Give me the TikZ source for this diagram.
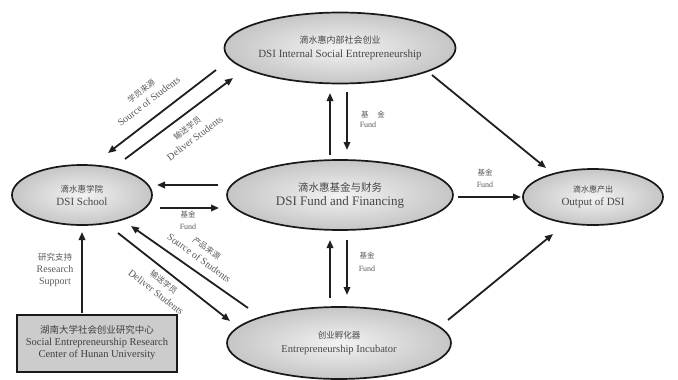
\documentclass[tikz,border=0pt]{standalone}
\usepackage{fontspec}
\setmainfont{Liberation Serif}
\newfontfamily\cjk{Noto Sans CJK SC}
\usetikzlibrary{shapes.geometric,arrows.meta}
\begin{document}
\begin{tikzpicture}[x=1pt,y=-1pt,
  ell/.style={ellipse, draw=black!90, line width=1.7pt, inner sep=0pt,
    shading=radial, inner color=gray!10, outer color=gray!45, align=center, text=black!72},
  arr/.style={-{Triangle[length=8pt,width=6.5pt]}, line width=1.8pt, draw=black!88},
  lbl/.style={align=center, text=black!65, inner sep=0pt},
  fnd/.style={text=black!65, inner sep=0pt, font=\fontsize{8}{9}\selectfont},
]
\useasboundingbox (0,0) rectangle (678,380);

% main nodes
\node[ell, minimum width=222pt, minimum height=71pt] (internal) at (340,48)
  {{\cjk\fontsize{9}{11}\selectfont 滴水惠内部社会创业}\\[2pt]{\fontsize{11}{13}\selectfont DSI Internal Social Entrepreneurship}};
\node[ell, minimum width=226pt, minimum height=70pt] (fund) at (340,195)
  {{\cjk\fontsize{10.5}{12}\selectfont 滴水惠基金与财务}\\[2pt]{\fontsize{13}{15}\selectfont DSI Fund and Financing}};
\node[ell, minimum width=140pt, minimum height=60pt] (school) at (82,195)
  {{\cjk\fontsize{8.5}{10}\selectfont 滴水惠学院}\\[1pt]{\fontsize{11}{13}\selectfont DSI School}};
\node[ell, minimum width=140pt, minimum height=56pt] (output) at (593,197)
  {{\cjk\fontsize{8}{10}\selectfont 滴水惠产出}\\[1pt]{\fontsize{11}{13}\selectfont Output of DSI}};
\node[ell, minimum width=224pt, minimum height=72pt] (incub) at (339,343)
  {{\cjk\fontsize{8.5}{10}\selectfont 创业孵化器}\\[2pt]{\fontsize{10.5}{12}\selectfont Entrepreneurship Incubator}};
\node[draw=black!90, line width=2pt, fill=gray!40, minimum width=160pt, minimum height=57pt,
  align=center, text=black!75, inner sep=0pt] (center) at (97,343)
  {{\cjk\fontsize{9.5}{14}\selectfont 湖南大学社会创业研究中心}\\{\fontsize{10.5}{14}\selectfont Social Entrepreneurship Research}\\{\fontsize{10.5}{14}\selectfont Center of Hunan University}};

% arrow end points
\coordinate (s1a) at (216,70);  \coordinate (s1b) at (108,153);
\coordinate (d1a) at (125,159); \coordinate (d1b) at (233,78);
\coordinate (u1a) at (330,155); \coordinate (u1b) at (330,93);
\coordinate (v1a) at (347,92);  \coordinate (v1b) at (347,150);
\coordinate (h1a) at (218,185); \coordinate (h1b) at (157,185);
\coordinate (h2a) at (160,208); \coordinate (h2b) at (219,208);
\coordinate (o1a) at (458,197); \coordinate (o1b) at (521,197);
\coordinate (o2a) at (432,75);  \coordinate (o2b) at (546,168);
\coordinate (o3a) at (448,320); \coordinate (o3b) at (553,234);
\coordinate (u2a) at (330,298); \coordinate (u2b) at (330,240);
\coordinate (v2a) at (347,240); \coordinate (v2b) at (347,295);
\coordinate (s2a) at (248,308); \coordinate (s2b) at (131,226);
\coordinate (d2a) at (118,233); \coordinate (d2b) at (230,321);
\coordinate (r1a) at (82,313);  \coordinate (r1b) at (82,232);

\draw[arr] (s1a) -- (s1b);
\draw[arr] (d1a) -- (d1b);
\draw[arr] (u1a) -- (u1b);
\draw[arr] (v1a) -- (v1b);
\draw[arr] (h1a) -- (h1b);
\draw[arr] (h2a) -- (h2b);
\draw[arr] (o1a) -- (o1b);
\draw[arr] (o2a) -- (o2b);
\draw[arr] (o3a) -- (o3b);
\draw[arr] (u2a) -- (u2b);
\draw[arr] (v2a) -- (v2b);
\draw[arr] (s2a) -- (s2b);
\draw[arr] (d2a) -- (d2b);
\draw[arr] (r1a) -- (r1b);

% labels
\node[lbl, rotate=37] (l1) at (145,96)
  {{\cjk\fontsize{8}{10}\selectfont 学员来源}\\[1pt]{\fontsize{10}{12}\selectfont Source of Students}};
\node[lbl, rotate=37] (l2) at (191,133)
  {{\cjk\fontsize{8}{10}\selectfont 输送学员}\\[1pt]{\fontsize{10}{12}\selectfont Deliver Students}};
\node[lbl, rotate=-36] (l3) at (203,253)
  {{\cjk\fontsize{8}{10}\selectfont 产品来源}\\[1pt]{\fontsize{10}{12}\selectfont Source of Students}};
\node[lbl, rotate=-38] (l4) at (160,287)
  {{\cjk\fontsize{8}{10}\selectfont 输送学员}\\[1pt]{\fontsize{10}{12}\selectfont Deliver Students}};
\node[lbl] (l5) at (55,270)
  {{\cjk\fontsize{8.5}{13}\selectfont 研究支持}\\{\fontsize{10}{13}\selectfont Research}\\{\fontsize{10}{13}\selectfont Support}};

\node[fnd, font=\cjk\fontsize{7.5}{9}\selectfont] (f1c) at (373,115) {基\hspace{1.2em}金};
\node[fnd] (f1e) at (368,125) {Fund};
\node[fnd, font=\cjk\fontsize{7.5}{9}\selectfont] (f2c) at (188,215) {基金};
\node[fnd] (f2e) at (188,227) {Fund};
\node[fnd, font=\cjk\fontsize{7.5}{9}\selectfont] (f3c) at (485,173) {基金};
\node[fnd] (f3e) at (485,185) {Fund};
\node[fnd, font=\cjk\fontsize{7.5}{9}\selectfont] (f4c) at (367,256) {基金};
\node[fnd] (f4e) at (367,269) {Fund};
\end{tikzpicture}
\end{document}
